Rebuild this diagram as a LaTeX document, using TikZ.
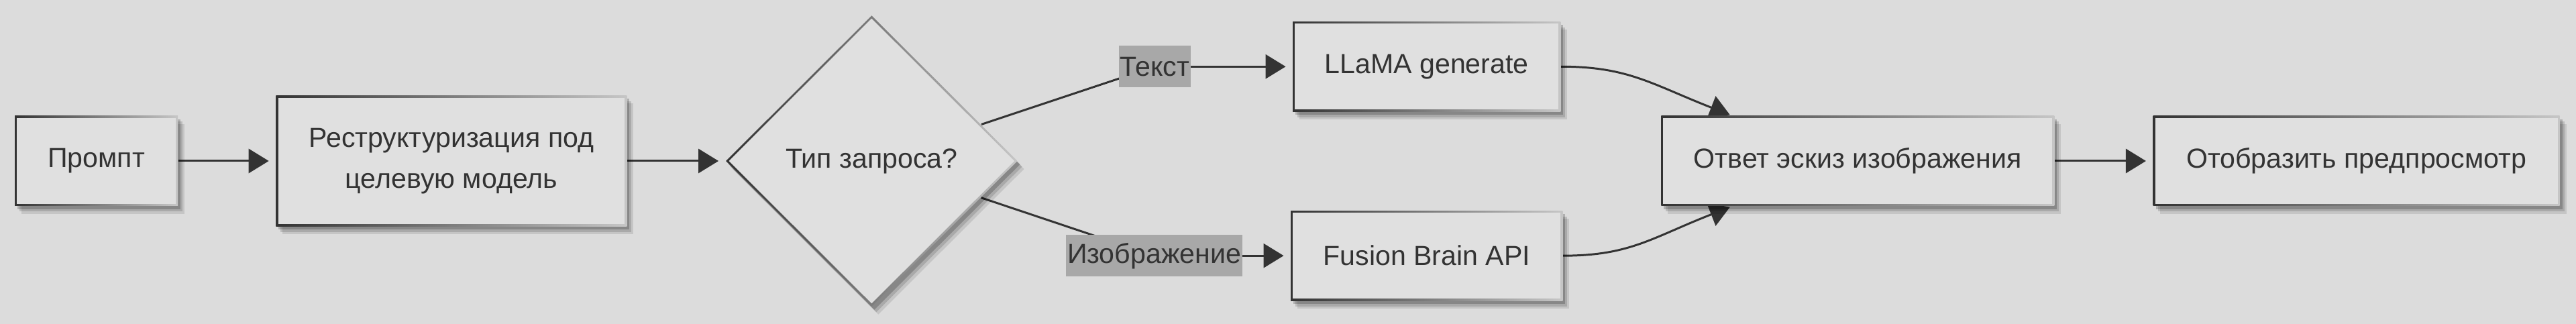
\documentclass[tikz,border=0pt]{standalone}
\usepackage{fontspec}
\setmainfont{Liberation Sans}
\usepackage{tikz}
\usetikzlibrary{shapes,arrows.meta,positioning,shadows}

\definecolor{bgcol}{HTML}{DCDCDC}
\definecolor{boxcol}{HTML}{E0E0E0}
\definecolor{inkcol}{HTML}{333333}
\definecolor{lightedge}{HTML}{C6C6C6}
\definecolor{lblcol}{HTML}{A8A8A8}

\pgfdeclarelayer{background}
\pgfdeclarelayer{edges}
\pgfsetlayers{background,edges,main}

\begin{document}
\begin{tikzpicture}[
    font=\fontsize{11.7}{17.4}\selectfont,
    text=inkcol,
    shadowed/.style={
        general shadow={fill=black, opacity=0.10, shadow xshift=1.0mm, shadow yshift=-1.2mm},
        general shadow={fill=black, opacity=0.14, shadow xshift=0.7mm, shadow yshift=-0.85mm},
        general shadow={fill=black, opacity=0.20, shadow xshift=0.4mm, shadow yshift=-0.5mm}},
    box/.style={rectangle, shadowed, minimum height=1.34cm, align=center, inner xsep=0pt,
        path picture={
            \shade[left color=inkcol, right color=lightedge] (path picture bounding box.south west) rectangle (path picture bounding box.north east);
            \fill[boxcol] ([shift={(0.9pt,0.9pt)}]path picture bounding box.south west) rectangle ([shift={(-0.9pt,-0.9pt)}]path picture bounding box.north east);
        }},
    decision/.style={diamond, shadowed, minimum width=4.35cm, minimum height=4.34cm, inner sep=0pt,
        path picture={
            \shade[left color=inkcol, right color=lightedge] (path picture bounding box.south west) rectangle (path picture bounding box.north east);
            \fill[boxcol] ([xshift=1.25pt]path picture bounding box.west) -- ([yshift=-1.25pt]path picture bounding box.north) -- ([xshift=-1.25pt]path picture bounding box.east) -- ([yshift=1.25pt]path picture bounding box.south) -- cycle;
        }},
    lbl/.style={fill=lblcol, inner xsep=0.5pt, minimum height=0.62cm},
    line/.style={draw=inkcol, line width=0.85pt},
    arrow/.style={line, -{Triangle[length=3mm,width=3.6mm]}, shorten >=1mm}
]
\useasboundingbox (0,0) rectangle (38.4,4.83);
\begin{pgfonlayer}{background}
\fill[bgcol] (0,0) rectangle (38.4,4.83);
\end{pgfonlayer}

\node[box, minimum width=2.43cm] (prompt) at (1.435,2.43) {Промпт};
\node[box, minimum width=5.23cm, minimum height=1.95cm, right=1.45cm of prompt] (restruct) {Реструктуризация под\\целевую модель};
\node[decision, right=1.46cm of restruct] (kind) {Тип запроса?};
\node[box, minimum width=3.99cm, above right=0.73cm and 4.09cm of kind.east] (llama) {LLaMA generate};
\node[box, minimum width=4.05cm, below right=0.735cm and 4.06cm of kind.east] (fusion) {Fusion Brain API};
\node[lbl] (lbltext) at ([xshift=-2.05cm]llama.west) {Текст};
\node[lbl] (lblimg) at ([xshift=-2.03cm]fusion.west) {Изображение};
\node[box, minimum width=5.86cm, right=9.58cm of kind] (answer) {Ответ эскиз изображения};
\node[box, minimum width=6.06cm, right=1.46cm of answer] (display) {Отобразить предпросмотр};
\coordinate (answer-in1) at ([xshift=1.06cm]answer.north west);
\coordinate (answer-in2) at ([xshift=1.06cm]answer.south west);

\begin{pgfonlayer}{edges}
\draw[arrow] (prompt) -- (restruct);
\draw[arrow] (restruct) -- (kind);
\draw[line] (kind) -- (lbltext.center);
\draw[arrow] (lbltext.center) -- (llama);
\draw[line] (kind) -- (lblimg.center);
\draw[arrow] (lblimg.center) -- (fusion);
\draw[arrow, shorten >=0.3mm] (llama.east) .. controls +(1.0,0) and +(-1.2,0.47) .. (answer-in1);
\draw[arrow, shorten >=0.3mm] (fusion.east) .. controls +(1.0,0) and +(-1.2,-0.47) .. (answer-in2);
\draw[arrow] (answer) -- (display);
\end{pgfonlayer}
\end{tikzpicture}
\end{document}
